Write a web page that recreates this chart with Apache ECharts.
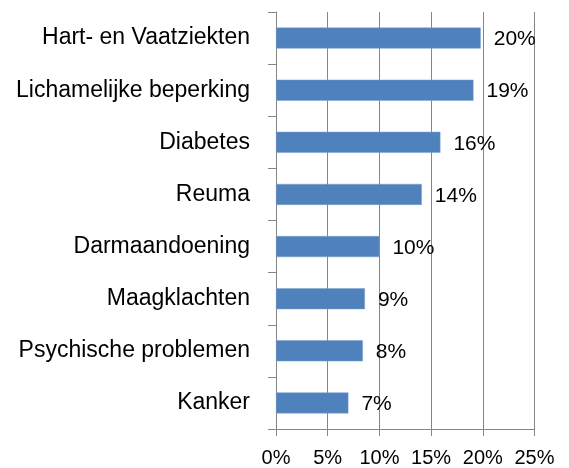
<!DOCTYPE html>
<html>
<head>
<meta charset="utf-8">
<script src="https://cdn.jsdelivr.net/npm/echarts@6/dist/echarts.min.js"></script>
<style>
html,body{margin:0;padding:0;background:#fff;}
#chart{width:569px;height:468px;}
</style>
</head>
<body>
<div id="chart"></div>
<script>
const categories = ["Hart- en Vaatziekten","Lichamelijke beperking","Diabetes","Reuma","Darmaandoening","Maagklachten","Psychische problemen","Kanker"];
const values = [19.8, 19.1, 15.9, 14.1, 10.0, 8.6, 8.4, 7.0];
const xTicks = [0, 5, 10, 15, 20, 25];

const FONT = "Liberation Sans";
const chart = echarts.init(document.getElementById('chart'), null, {renderer:'canvas'});
chart.setOption({
  animation:false,
  grid:{left:276, right:34.5, top:12, bottom:38.7, containLabel:false},
  xAxis:{
    type:'value', min:xTicks[0], max:xTicks[xTicks.length-1], interval:5,
    axisLine:{show:true, lineStyle:{color:'#868686', width:1}},
    axisTick:{show:true, length:7, lineStyle:{color:'#868686'}},
    splitLine:{show:true, lineStyle:{color:'#868686', width:1}},
    axisLabel:{margin:19, color:'#000', fontFamily:FONT, fontSize:20, formatter:v=>v+'%'}
  },
  yAxis:{
    type:'category', data:categories, inverse:true,
    axisLine:{show:true, lineStyle:{color:'#868686', width:1}},
    axisTick:{show:true, length:8, alignWithLabel:false, lineStyle:{color:'#868686'}},
    splitLine:{show:false},
    axisLabel:{margin:26, color:'#000', fontFamily:FONT, fontSize:23}
  },
  series:[{
    type:'bar', data:values, barWidth:21,
    itemStyle:{color:'#4F81BD', borderColor:'#7AA0CF', borderWidth:0.5},
    label:{show:true, position:'right', distance:13, offset:[0,1.5], color:'#000', fontFamily:FONT, fontSize:21,
      formatter:p=>Math.round(p.value)+'%'}
  }]
});
</script>
</body>
</html>
